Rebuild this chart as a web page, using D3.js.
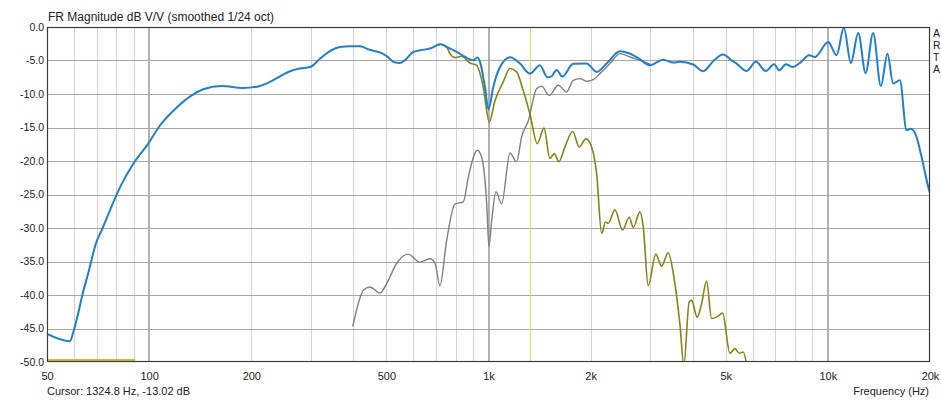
<!DOCTYPE html>
<html>
<head>
<meta charset="utf-8">
<script src="https://cdn.jsdelivr.net/npm/d3@7"></script>
<style>
  html, body { margin: 0; padding: 0; background: #ffffff; }
  svg { display: block; }
  text { font-family: "Liberation Sans", Arial, sans-serif; fill: #222; }
</style>
</head>
<body>
<svg id="chart" width="941" height="401"></svg>
<script>
// Summed response (blue)
const sumFreq = [50, 58.4, 59.8, 61.4, 63.7, 66.1, 69.7, 72.5, 76.6, 82.1, 89.8, 99.4, 107.6, 120.6, 133.5, 144.4, 163.6, 189.4, 212, 227, 243, 260, 278, 298, 319, 341, 365, 391, 418, 447, 484, 506, 527, 548, 567, 600, 628, 672, 723, 753, 806, 862, 902, 927, 944, 976, 1000, 1033, 1076, 1157, 1238, 1325, 1418, 1490, 1530, 1588, 1650, 1777, 1946, 2083, 2229, 2440, 2580, 2762, 2990, 3272, 3501, 3664, 4011, 4293, 4594, 4916, 5204, 5384, 5762, 6137, 6566, 6946, 7188, 7522, 7873, 8272, 8810, 9158, 10027, 10610, 11150, 11690, 12290, 12920, 13600, 14330, 14990, 15570, 16300, 17060, 17560, 18250, 18890, 19890, 20000];
const sumDb = [-45.8, -46.9, -45.5, -43.3, -39.8, -36.8, -32.3, -30.3, -27.4, -23.9, -20.4, -17.4, -14.7, -12.0, -10.2, -9.3, -8.8, -9.1, -8.8, -8.2, -7.36, -6.6, -6.2, -5.97, -4.7, -3.6, -2.98, -2.88, -2.88, -3.4, -3.9, -4.5, -5.27, -5.37, -4.97, -3.73, -3.48, -3.22, -2.58, -2.98, -3.73, -4.57, -4.97, -4.57, -5.2, -8.96, -12.3, -8.96, -6.2, -4.5, -5.46, -6.96, -5.7, -7.5, -7.4, -6.4, -7.4, -5.5, -5.46, -6.7, -5.46, -3.63, -3.88, -4.63, -5.7, -4.87, -5.3, -5.2, -5.6, -6.6, -5.1, -4.12, -4.97, -5.46, -6.57, -5.2, -6.57, -5.57, -6.46, -5.57, -5.97, -5.37, -4.22, -4.48, -2.24, -4.22, -0.1, -5.37, -0.9, -6.87, -0.9, -8.8, -3.98, -8.45, -7.96, -15.4, -15.2, -16.4, -19.4, -24.4, -24.8];

// Low-pass branch (olive)
const lowFreq = [703, 723, 753, 770, 797, 833, 882, 922, 965, 1005, 1045, 1105, 1157, 1210, 1265, 1325, 1392, 1457, 1517, 1562, 1612, 1680, 1770, 1851, 1937, 2013, 2083, 2155, 2214, 2254, 2358, 2484, 2598, 2670, 2794, 2857, 2955, 3113, 3236, 3385, 3518, 3664, 3765, 3903, 3967, 4121, 4246, 4392, 4544, 4700, 4896, 5145, 5322, 5481, 5630, 5762];
const lowDb = [-2.7, -2.58, -3.0, -3.98, -4.57, -4.37, -5.37, -5.7, -8.96, -14.2, -11.0, -8.2, -6.2, -6.7, -9.45, -13.02, -17.4, -15.1, -19.6, -18.9, -20.1, -17.9, -15.6, -17.9, -16.7, -17.9, -21.9, -30.8, -29.1, -29.3, -27.3, -30.3, -28.4, -29.9, -27.6, -29.8, -38.6, -33.9, -35.7, -33.7, -37.3, -44.3, -50.5, -41.0, -40.8, -43.3, -41.3, -37.9, -43.5, -43.3, -42.7, -48.7, -48.0, -48.7, -48.5, -50.3];

// High-pass branch (gray)
const highFreq = [398, 428, 447, 479, 501, 536, 580, 628, 672, 696, 719, 753, 797, 843, 872, 927, 954, 988, 1003, 1022, 1052, 1093, 1157, 1210, 1252, 1310, 1386, 1434, 1510, 1605, 1699, 1777, 1860, 1946, 2036, 2129, 2280, 2440, 2611, 2794, 2990];
const highDb = [-44.7, -39.3, -38.8, -39.7, -38.3, -35.3, -33.9, -35.1, -34.6, -35.3, -38.6, -31.8, -26.4, -26.1, -22.4, -18.4, -19.4, -26.4, -32.8, -28.9, -24.6, -26.4, -18.8, -20.1, -16.4, -14.0, -9.2, -8.85, -10.2, -8.7, -9.7, -7.96, -7.7, -8.1, -7.85, -6.96, -5.46, -3.98, -4.48, -4.97, -5.5];

// Floor trace at the bottom edge
const floorFreq = [50, 91];
const floorDb = [-49.7, -49.7];

const cursorFreq = 1324.8;
const cursorDb = -13.02;

const xTickValues = [50, 100, 200, 500, 1000, 2000, 5000, 10000, 20000];
const xTickLabels = ["50", "100", "200", "500", "1k", "2k", "5k", "10k", "20k"];
const yTickValues = [0, -5, -10, -15, -20, -25, -30, -35, -40, -45, -50];

const svg = d3.select("#chart");
const plotL = 47, plotR = 930, plotT = 27, plotB = 362;

const x = d3.scaleLog().domain([50, 20000]).range([plotL, plotR]);
const y = d3.scaleLinear().domain([-50, 0]).range([plotB, plotT]);

svg.append("defs").append("clipPath").attr("id", "plot")
  .append("rect").attr("x", plotL).attr("y", plotT)
  .attr("width", plotR - plotL).attr("height", plotB - plotT);

// Vertical grid: every 1-2-...-9 step per decade, decades drawn heavier
const gridF = [];
for (let dec = 10; dec <= 10000; dec *= 10) {
  for (let m = 1; m <= 9; m++) {
    const f = dec * m;
    if (f > 50 && f < 20000) gridF.push(f);
  }
}
const isDecade = d => [100, 1000, 10000].includes(d);
const grid = svg.append("g");
grid.selectAll("line.v").data(gridF).join("line")
  .attr("x1", d => isDecade(d) ? Math.round(x(d)) : Math.round(x(d)) + 0.5)
  .attr("x2", d => isDecade(d) ? Math.round(x(d)) : Math.round(x(d)) + 0.5)
  .attr("y1", plotT).attr("y2", plotB)
  .attr("stroke", d => isDecade(d) ? "#b2b2b2" : "#d4d4d4")
  .attr("stroke-width", d => isDecade(d) ? 2 : 1);

grid.selectAll("line.h").data(yTickValues.filter(v => v > -50 && v < 0)).join("line")
  .attr("x1", plotL).attr("x2", plotR)
  .attr("y1", d => Math.round(y(d)) + 0.5).attr("y2", d => Math.round(y(d)) + 0.5)
  .attr("stroke", "#a8a8a8").attr("stroke-width", 1.2);

// Cursor marker
svg.append("line")
  .attr("x1", Math.round(x(cursorFreq)) + 0.5).attr("x2", Math.round(x(cursorFreq)) + 0.5)
  .attr("y1", plotT).attr("y2", plotB)
  .attr("stroke", "#d8dc78").attr("stroke-width", 1.2);

const line = (fs, ds) => d3.line()
  .x((d, i) => x(fs[i])).y((d, i) => y(ds[i]))
  .curve(d3.curveMonotoneX)(fs);

const traces = svg.append("g").attr("clip-path", "url(#plot)");
traces.append("path").attr("d", line(floorFreq, floorDb))
  .attr("fill", "none").attr("stroke", "#c4c43c").attr("stroke-width", 2);
traces.append("path").attr("d", line(highFreq, highDb))
  .attr("fill", "none").attr("stroke", "#808080").attr("stroke-width", 1.4);
traces.append("path").attr("d", line(lowFreq, lowDb))
  .attr("fill", "none").attr("stroke", "#858514").attr("stroke-width", 1.6);
traces.append("path").attr("d", line(sumFreq, sumDb))
  .attr("fill", "none").attr("stroke", "#1f7fd0").attr("stroke-width", 2);

// Plot frame
svg.append("rect").attr("x", plotL + 0.5).attr("y", plotT + 0.5)
  .attr("width", plotR - plotL - 1).attr("height", plotB - plotT - 1)
  .attr("fill", "none").attr("stroke", "#3c3c3c").attr("stroke-width", 1.2);

// Axis labels
const yAxis = d3.axisLeft(y).tickValues(yTickValues).tickSize(0).tickPadding(3)
  .tickFormat(d => d3.format(".1f")(d).replace("\u2212", "-"));
const gy = svg.append("g").attr("transform", `translate(${plotL},0)`).call(yAxis);
gy.select(".domain").remove();
gy.selectAll("text").attr("font-size", 10.5).attr("font-family", "Liberation Sans, Arial, sans-serif")
  .attr("fill", "#222");

const xAxis = d3.axisBottom(x).tickValues(xTickValues).tickSize(0).tickPadding(10)
  .tickFormat((d, i) => xTickLabels[i]);
const gx = svg.append("g").attr("transform", `translate(0,${plotB})`).call(xAxis);
gx.select(".domain").remove();
gx.selectAll("text").attr("font-size", 11).attr("font-family", "Liberation Sans, Arial, sans-serif")
  .attr("fill", "#222");

svg.append("text").attr("x", 48).attr("y", 21).attr("font-size", 12)
  .text("FR Magnitude dB V/V (smoothed 1/24 oct)");

svg.append("text").attr("x", 47).attr("y", 395).attr("font-size", 11)
  .text(`Cursor: ${cursorFreq} Hz, ${cursorDb.toFixed(2)} dB`);

svg.append("text").attr("x", 929).attr("y", 395).attr("font-size", 11)
  .attr("text-anchor", "end").text("Frequency (Hz)");

// Vertical brand lettering at the right edge
["A", "R", "T", "A"].forEach((c, i) => {
  svg.append("text").attr("x", 933).attr("y", 36.5 + i * 12.2)
    .attr("font-size", 10.5).text(c);
});
</script>
</body>
</html>
